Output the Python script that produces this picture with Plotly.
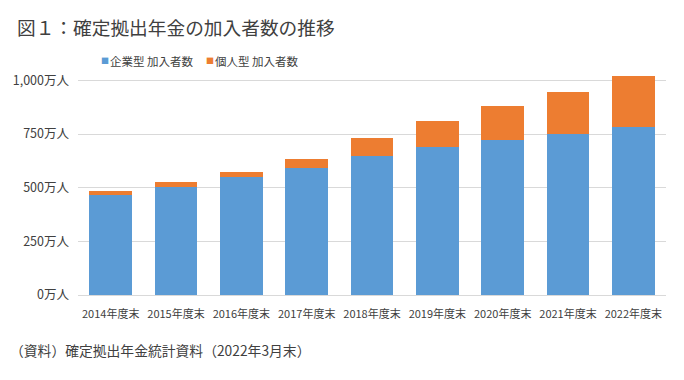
import plotly.graph_objects as go

categories = ["2014年度末", "2015年度末", "2016年度末", "2017年度末", "2018年度末",
              "2019年度末", "2020年度末", "2021年度末", "2022年度末"]
corporate = [464, 505, 548, 591, 648, 688, 723, 750, 782]   # 企業型 加入者数 (万人)
individual = [19, 22, 26, 43, 85, 121, 156, 194, 239]       # 個人型 加入者数 (万人)
series_names = ["企業型 加入者数", "個人型 加入者数"]
series_colors = ["#5B9BD5", "#ED7D31"]
ytick_vals = [0, 250, 500, 750, 1000]
ytick_text = ["0万人", "250万人", "500万人", "750万人", "1,000万人"]

FONT = "Noto Sans CJK JP"
W, H = 684, 380
OFF = 8  # page body margin offset
L, T = 78 - OFF, 73.5 - OFF
pw = 588
ph = 221.5
R = W - L - pw
B = H - T - ph


def px(x):
    return (x - OFF - L) / pw


def py(y):
    return (T + ph - (y - OFF)) / ph


fig = go.Figure()
fig.add_trace(go.Bar(x=categories, y=corporate, name=series_names[0],
                     marker=dict(color=series_colors[0], line=dict(width=0))))
fig.add_trace(go.Bar(x=categories, y=individual, name=series_names[1],
                     marker=dict(color=series_colors[1], line=dict(width=0))))

legend_ann = []
for sx, tx, name, col in [(99, 108, series_names[0], series_colors[0]),
                          (204, 213, series_names[1], series_colors[1])]:
    legend_ann.append(dict(text="■", xref="paper", yref="paper", x=px(sx), y=py(60),
                           xanchor="left", yanchor="middle", showarrow=False,
                           font=dict(family=FONT, size=8, color=col)))
    legend_ann.append(dict(text=name, xref="paper", yref="paper", x=px(tx), y=py(60),
                           xanchor="left", yanchor="middle", showarrow=False,
                           font=dict(family=FONT, size=11.5, color="#404040")))

fig.update_layout(
    width=W, height=H,
    barmode="stack", bargap=0.35,
    showlegend=False,
    margin=dict(l=L, r=R, t=T, b=B, autoexpand=False),
    paper_bgcolor="white", plot_bgcolor="white",
    font=dict(family=FONT, color="#595959", size=11),
    title=dict(text="図１：確定拠出年金の加入者数の推移", xref="container", yref="container",
               x=(17 - OFF) / W, xanchor="left", y=1 - (28.5 - OFF) / H, yanchor="middle",
               font=dict(family=FONT, size=18.7, color="#404040")),
    xaxis=dict(showgrid=False, showline=True, linecolor="#D9D9D9", linewidth=1,
               ticks="", ticklabelstandoff=9, automargin=False,
               tickfont=dict(family=FONT, size=11, color="#404040")),
    yaxis=dict(range=[0, 1030], tickvals=ytick_vals, ticktext=ytick_text,
               showgrid=True, gridcolor="#D9D9D9", gridwidth=1, zeroline=False,
               showline=False, ticks="", ticklabelstandoff=8, automargin=False,
               tickfont=dict(family=FONT, size=12.5, color="#404040")),
    annotations=legend_ann + [
        dict(text="（資料）確定拠出年金統計資料（2022年3月末）", xref="paper", yref="paper",
             x=px(8), xanchor="left", y=py(350), yanchor="middle",
             showarrow=False, font=dict(family=FONT, size=13.8, color="#404040"))],
)

fig.write_html("out.html")
